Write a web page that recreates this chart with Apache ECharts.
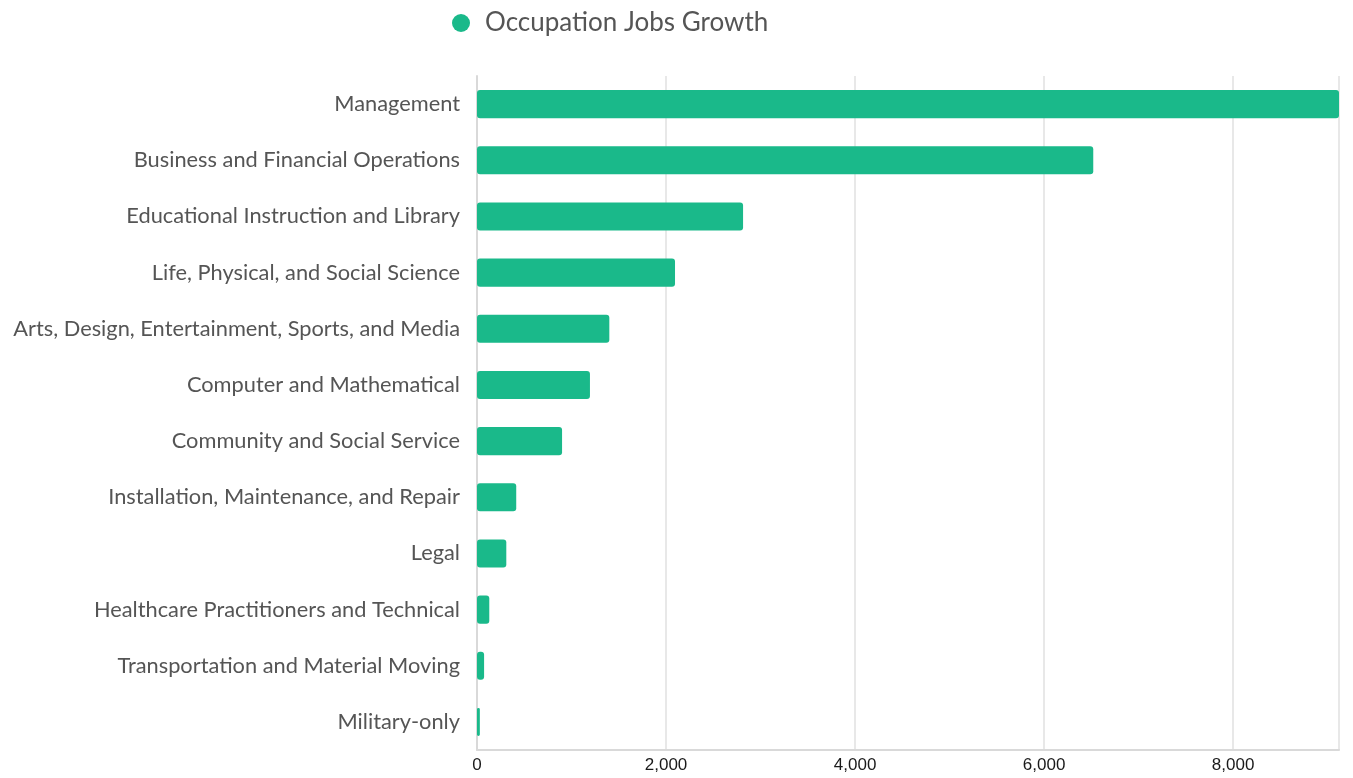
<!DOCTYPE html>
<html>
<head>
<meta charset="utf-8">
<script src="https://cdn.jsdelivr.net/npm/echarts@6/dist/echarts.min.js"></script>
<style>
  html, body { margin: 0; padding: 0; background: #fff; }
  #chart { width: 1353px; height: 778px; }
</style>
</head>
<body>
<div id="chart"></div>
<script>
// occupations, top to bottom
const categories = [
  'Management',
  'Business and Financial Operations',
  'Educational Instruction and Library',
  'Life, Physical, and Social Science',
  'Arts, Design, Entertainment, Sports, and Media',
  'Computer and Mathematical',
  'Community and Social Service',
  'Installation, Maintenance, and Repair',
  'Legal',
  'Healthcare Practitioners and Technical',
  'Transportation and Material Moving',
  'Military-only'
]
const jobsGrowth = [9120, 6520, 2815, 2095, 1400, 1195, 900, 415, 310, 130, 75, 30]
const seriesName = 'Occupation Jobs Growth'

const chart = echarts.init(document.getElementById('chart'))

chart.setOption({
  animation: false,
  legend: {
    data: [seriesName],
    icon: 'circle',
    left: 447,
    top: 5,
    itemWidth: 38,
    itemHeight: 18,
    textStyle: {
      fontFamily: 'Lato',
      fontSize: 26,
      color: '#555'
    }
  },
  grid: {
    left: 477,
    right: 14,
    top: 76,
    bottom: 28,
    containLabel: false
  },
  xAxis: {
    type: 'value',
    min: 0,
    max: 'dataMax',
    interval: 2000,
    axisLine: { show: true, lineStyle: { color: '#d9d9d9', width: 2 } },
    axisTick: { show: false },
    splitLine: { show: true, lineStyle: { color: '#e0e0e0', width: 1.5 } },
    axisLabel: {
      color: '#1a1a1a',
      fontFamily: 'Liberation Sans',
      fontSize: 17,
      margin: 7,
      showMaxLabel: false,
      formatter: v => v.toLocaleString('en-US')
    }
  },
  yAxis: {
    type: 'category',
    data: categories,
    inverse: true,
    axisLine: { show: true, lineStyle: { color: '#d9d9d9', width: 2 } },
    axisTick: { show: false },
    axisLabel: {
      color: '#555',
      fontFamily: 'Lato',
      fontSize: 21.8,
      margin: 17,
      padding: [2, 0, 0, 0]
    }
  },
  series: [
    {
      name: seriesName,
      type: 'bar',
      data: jobsGrowth,
      barWidth: '50%',
      itemStyle: {
        color: '#1ab98a',
        borderRadius: 3
      }
    }
  ]
})
</script>
</body>
</html>
